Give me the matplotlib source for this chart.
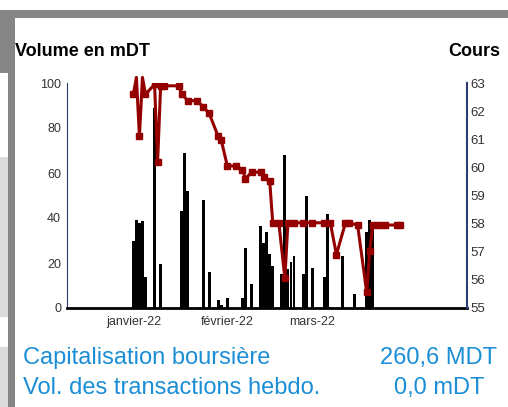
import matplotlib.pyplot as plt
from matplotlib.patches import Rectangle

plt.rcParams['font.family'] = ['Liberation Sans', 'DejaVu Sans']

# Volume en mDT (days counted from 1 Jan 2022)
vol_days = [0, 1, 2, 3, 4, 7, 9, 16, 17, 18, 22, 23, 25, 28, 29, 31, 36, 37, 39,
            42, 43, 44, 45, 46, 49, 50, 51, 52, 53, 56, 57, 59, 63, 64, 65, 69, 73,
            77, 78, 79]
vol_values = [30, 39, 38, 38.5, 14, 89, 19.5, 43, 69, 52, 0.5, 48, 16, 3.5, 1.5, 4.5,
              4.5, 26.7, 10.7, 36.6, 29, 33.8, 24, 18.7, 15, 68, 17.3, 20.4, 23, 15,
              49.8, 17.8, 14, 41.8, 0.5, 23, 6.2, 34, 39, 35]

# Cours
cours_days = [0, 1, 2, 3, 4, 7, 8, 9, 10, 15, 16, 18, 21, 23, 25, 28, 29, 31, 34,
              36, 37, 39, 42, 43, 45, 46, 48, 50, 51, 53, 56, 59, 63, 65, 67, 70, 71,
              74, 77, 78, 79, 81, 83, 87, 88]
cours_values = [62.6, 63.2, 61.1, 63.2, 62.6, 62.95, 60.2, 62.9, 62.9, 62.9, 62.6,
                62.37, 62.37, 62.16, 61.92, 61.1, 60.97, 60.05, 60.05, 59.9, 59.6,
                59.83, 59.83, 59.65, 59.5, 58.03, 58.03, 56.06, 58.03, 58.03, 58.03,
                58.03, 58.03, 58.03, 56.9, 58.03, 58.03, 57.95, 55.56, 57.04, 57.95,
                57.95, 57.95, 57.95, 57.95]

month_days = [0, 31, 59]
month_labels = ['janvier-22', 'février-22', 'mars-22']

W, H = 508, 407
fig = plt.figure(figsize=(W / 100, H / 100), dpi=100)


def px_rect(x, y, w, h, color):
    # rectangle in pixel coords, y measured from top
    fig.add_artist(Rectangle((x / W, 1 - (y + h) / H), w / W, h / H,
                             transform=fig.transFigure, color=color, lw=0, zorder=0))


# page decorations around the chart
px_rect(0, 10, W, 7.5, '#858585')
px_rect(0, 10, 15, 63, '#858585')
px_rect(8, 10, 7, H, '#858585')
px_rect(0, 157, 8, 160, '#dcdcdc')
px_rect(0, 347, 8, 60, '#dcdcdc')

ax = fig.add_axes([66.7 / W, 99 / H, 400 / W, 225 / H])
ax.bar(vol_days, vol_values, width=0.95, color='black', zorder=2)
ax.set_xlim(-22, 110)
ax.set_ylim(0, 100)
ax.set_yticks(range(0, 101, 20))
ax.set_xticks(month_days)
ax.set_xticklabels(month_labels)
ax.tick_params(axis='both', length=0, labelsize=9, labelcolor='#333333')
ax.tick_params(axis='y', pad=4)
ax.tick_params(axis='x', pad=6)
ax.spines['top'].set_visible(False)
ax.spines['right'].set_visible(False)
ax.spines['left'].set_color('#2e3d7a')
ax.spines['bottom'].set_linewidth(2)

ax2 = ax.twinx()
line_color = '#940000'
# the line may overshoot the top of the plot, the markers do not
ax2.plot(cours_days, cours_values, color=line_color, lw=2.2, clip_on=False)
ax2.plot(cours_days, cours_values, color=line_color, lw=0, marker='s', ms=4.5)
ax2.set_ylim(55, 63)
ax2.set_yticks(range(55, 64))
ax2.tick_params(axis='y', length=0, labelsize=9.5, labelcolor='#333333', pad=3)
ax2.spines['top'].set_visible(False)
ax2.spines['left'].set_visible(False)
ax2.spines['bottom'].set_visible(False)
ax2.spines['right'].set_color('#2e3d7a')
ax2.spines['right'].set_linewidth(1.5)

fig.text(15 / W, 1 - 56 / H, 'Volume en mDT', fontsize=13, fontweight='bold',
         va='baseline')
fig.text(500 / W, 1 - 56 / H, 'Cours', fontsize=13, fontweight='bold',
         va='baseline', ha='right')

blue = '#1b8ed6'
fig.text(23 / W, 1 - 364 / H, 'Capitalisation boursière', fontsize=17, color=blue,
         va='baseline')
fig.text(23 / W, 1 - 394 / H, 'Vol. des transactions hebdo.', fontsize=17, color=blue,
         va='baseline')
fig.text(439 / W, 1 - 364 / H, '260,6 MDT', fontsize=17, color=blue,
         va='baseline', ha='center')
fig.text(439 / W, 1 - 394 / H, '0,0 mDT', fontsize=17, color=blue,
         va='baseline', ha='center')

fig.savefig('out.png', dpi=100)
